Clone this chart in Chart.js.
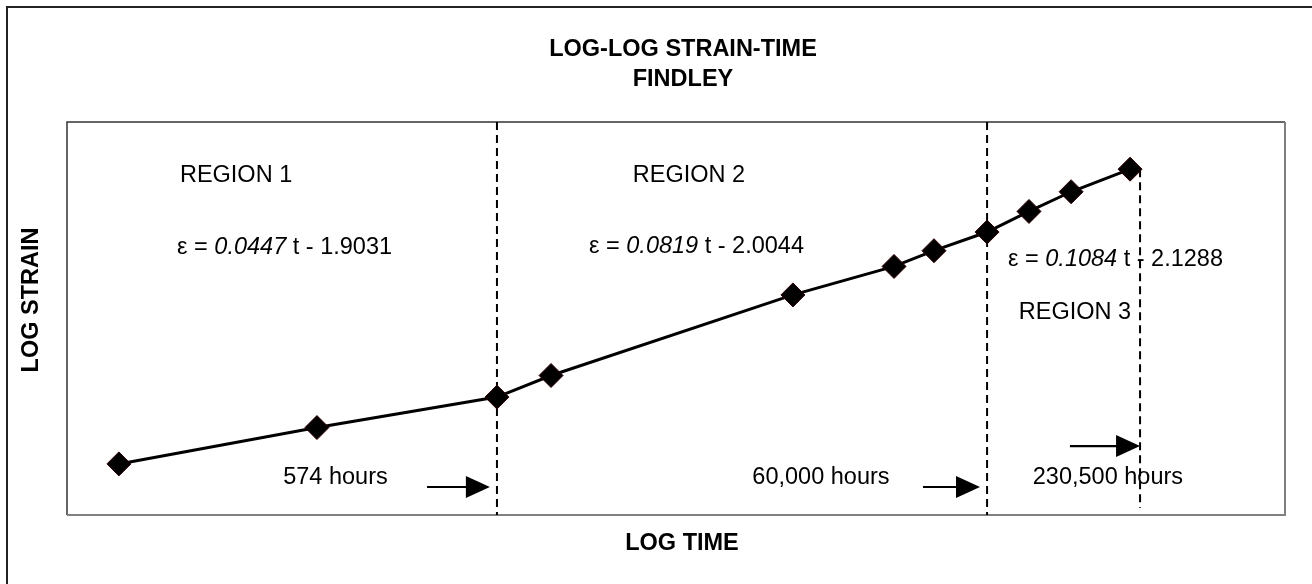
<!DOCTYPE html>
<html>
<head>
<meta charset="utf-8">
<script src="https://cdn.jsdelivr.net/npm/chart.js@4.4.1/dist/chart.umd.min.js"></script>
<style>
html,body{margin:0;padding:0;background:#fff;}
#wrap{position:relative;width:1312px;height:584px;}
</style>
</head>
<body>
<div id="wrap"><canvas id="c"></canvas></div>
<script>
// ---- data ----
const logTime   = [1.213, 2.026, 2.765, 2.987, 3.980, 4.395, 4.559, 4.777, 4.949, 5.122, 5.364];
const logStrain = [-1.848, -1.811, -1.780, -1.758, -1.676, -1.647, -1.631, -1.612, -1.591, -1.571, -1.548];
const boundaryLogTime = [2.765, 4.777, 5.405];
const boundaryTop     = [-1.5, -1.5, -1.548];
const boundaryBottom  = [-1.9, -1.9, -1.893];
const boundaryLabels  = ['574 hours', '60,000 hours', '230,500 hours'];
const regionLabels    = ['REGION 1', 'REGION 2', 'REGION 3'];
const slopes          = ['0.0447', '0.0819', '0.1084'];
const intercepts      = ['1.9031', '2.0044', '2.1288'];
const chartTitle      = ['LOG-LOG STRAIN-TIME', 'FINDLEY'];
const xTitle = 'LOG TIME';
const yTitle = 'LOG STRAIN';
const xRange = [1, 6];
const yRange = [-1.9, -1.5];

// ---- annotation placement (in data units) ----
const place = {
  region: [[1.694, -1.554], [3.553, -1.554], [5.138, -1.694]],
  eq:     [[1.452, -1.628], [3.143, -1.627], [4.863, -1.640]],
  hours:  [[2.102, -1.862], [4.095, -1.862], [5.273, -1.862]],
  arrows: [[2.478, 2.736, -1.8715], [4.514, 4.748, -1.8715], [5.117, 5.405, -1.8298]]
};

const FONT = '"Liberation Sans", Arial, sans-serif';
const FS = 23.5;

const seriesData = logTime.map((t, i) => ({x: t, y: logStrain[i]}));
const boundaryDatasets = boundaryLogTime.map((bx, i) => ({
  type: 'line',
  data: [{x: bx, y: boundaryTop[i]}, {x: bx, y: boundaryBottom[i]}],
  borderColor: '#000',
  borderWidth: 2,
  borderDash: [8, 5],
  pointRadius: 0,
  fill: false,
  order: 2,
  clip: false
}));

const decor = {
  id: 'decor',
  beforeDraw(chart) {
    const ctx = chart.ctx;
    ctx.save();
    ctx.fillStyle = '#fff';
    ctx.fillRect(0, 0, chart.width, chart.height);
    ctx.strokeStyle = '#222';
    ctx.lineWidth = 2;
    ctx.strokeRect(7, 7, chart.width + 20, chart.height + 20);
    ctx.restore();
  },
  beforeDatasetsDraw(chart) {
    const ctx = chart.ctx;
    const a = chart.chartArea;
    ctx.save();
    ctx.lineCap = 'butt';
    ctx.strokeStyle = '#333';
    ctx.lineWidth = 1.5;
    ctx.beginPath();
    ctx.moveTo(a.left, a.bottom); ctx.lineTo(a.left, a.top); ctx.lineTo(a.right, a.top);
    ctx.stroke();
    ctx.strokeStyle = '#808080';
    ctx.lineWidth = 2;
    ctx.beginPath();
    ctx.moveTo(a.right, a.top); ctx.lineTo(a.right, a.bottom); ctx.lineTo(a.left, a.bottom);
    ctx.stroke();
    ctx.restore();
  },
  afterDatasetsDraw(chart) {
    const ctx = chart.ctx;
    const xs = chart.scales.x, ys = chart.scales.y;
    const X = v => xs.getPixelForValue(v), Y = v => ys.getPixelForValue(v);
    ctx.save();
    ctx.fillStyle = '#000';
    ctx.textBaseline = 'middle';
    ctx.font = `${FS}px ${FONT}`;
    ctx.textAlign = 'center';
    regionLabels.forEach((t, i) => ctx.fillText(t, X(place.region[i][0]), Y(place.region[i][1])));
    boundaryLabels.forEach((t, i) => ctx.fillText(t, X(place.hours[i][0]), Y(place.hours[i][1])));
    ctx.textAlign = 'left';
    slopes.forEach((s, i) => {
      let x = X(place.eq[i][0]);
      const y = Y(place.eq[i][1]);
      const parts = [['\u03B5 = ', 'normal'], [s, 'italic'], [' t - ' + intercepts[i], 'normal']];
      parts.forEach(([txt, st]) => {
        ctx.font = `${st} ${FS}px ${FONT}`;
        ctx.fillText(txt, x, y);
        x += ctx.measureText(txt).width;
      });
    });
    place.arrows.forEach(([x0, x1, yv]) => {
      const px0 = X(x0), px1 = X(x1), py = Y(yv);
      const hl = 24, hh = 11;
      ctx.strokeStyle = '#000';
      ctx.lineWidth = 2.2;
      ctx.beginPath();
      ctx.moveTo(px0, py); ctx.lineTo(px1 - hl + 1, py);
      ctx.stroke();
      ctx.beginPath();
      ctx.moveTo(px1, py); ctx.lineTo(px1 - hl, py - hh); ctx.lineTo(px1 - hl, py + hh);
      ctx.closePath();
      ctx.fill();
    });
    ctx.restore();
  },
  afterDraw(chart) {
    const ctx = chart.ctx;
    ctx.save();
    ctx.fillStyle = '#000';
    ctx.textAlign = 'center';
    ctx.textBaseline = 'middle';
    ctx.font = `bold ${FS}px ${FONT}`;
    ctx.fillText(chartTitle[0], 683, 50);
    ctx.fillText(chartTitle[1], 683, 80);
    ctx.fillText(xTitle, 682, 544);
    ctx.translate(32, 300);
    ctx.rotate(-Math.PI / 2);
    ctx.fillText(yTitle, 0, 0);
    ctx.restore();
  }
};

new Chart(document.getElementById('c'), {
  type: 'scatter',
  data: {
    datasets: [{
      type: 'scatter',
      data: seriesData,
      showLine: true,
      borderColor: '#000',
      borderWidth: 3,
      pointStyle: 'rectRot',
      pointRadius: 12,
      pointBackgroundColor: '#000',
      pointBorderColor: '#300000',
      pointBorderWidth: 1,
      order: 1,
      clip: false
    }, ...boundaryDatasets]
  },
  options: {
    responsive: true,
    maintainAspectRatio: false,
    animation: false,
    layout: {padding: {left: 67, top: 122, right: 27, bottom: 69}},
    plugins: {legend: {display: false}, tooltip: {enabled: false}, title: {display: false}},
    scales: {
      x: {type: 'linear', min: xRange[0], max: xRange[1], display: false},
      y: {type: 'linear', min: yRange[0], max: yRange[1], display: false}
    }
  },
  plugins: [decor]
});
</script>
</body>
</html>
